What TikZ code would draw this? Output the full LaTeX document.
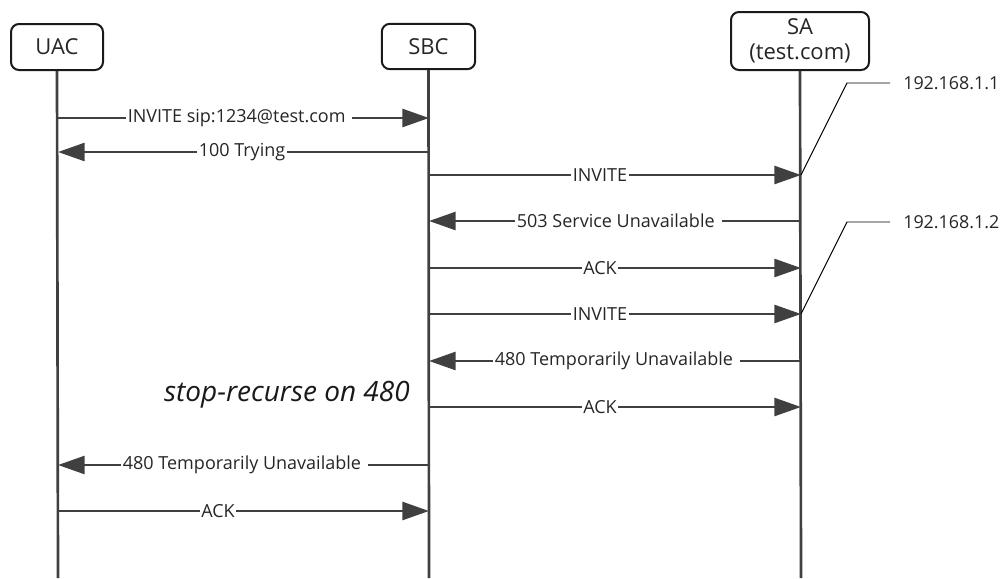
\documentclass[tikz,border=0pt]{standalone}
\usepackage{fontspec}
\setmainfont{Open Sans}
\usetikzlibrary{arrows.meta}
\definecolor{linegray}{HTML}{404040}
\definecolor{boxline}{HTML}{1A1A1A}
\tikzset{
  actor/.style={draw=boxline, line width=1.5pt, rounded corners=6pt, fill=white,
    inner sep=0pt, align=center, font=\fontsize{16.5}{19}\selectfont, text=black!85},
  life/.style={draw=linegray, line width=2pt},
  msg/.style={draw=linegray, line width=2pt, -{Triangle[length=20pt,width=13.5pt]}},
  lbl/.style={fill=white, inner sep=1.2pt, font=\fontsize{13.5}{15}\selectfont, text=black!85},
  ann/.style={draw=black, line width=0.7pt},
  iplbl/.style={inner sep=0pt, anchor=west, font=\fontsize{13.4}{15}\selectfont, text=black!85},
  note/.style={inner sep=0pt, font=\fontsize{21}{25}\selectfont\itshape, text=black!90}
}
\newcommand{\trail}{\kern4pt}
\begin{document}
\begin{tikzpicture}[x=0.75pt, y=-0.75pt]
\useasboundingbox (0,0) rectangle (1005,578);
% actors
\node[actor, minimum width=69pt, minimum height=34.5pt] (uac) at (57,47) {UAC};
\node[actor, minimum width=70pt, minimum height=34pt] (sbc) at (428.5,46.5) {SBC};
\node[actor, minimum width=103.5pt, minimum height=43.5pt] (sa) at (800,41) {SA\\(test.com)};
% lifeline ends
\coordinate (uacend) at (58,578);
\coordinate (sbcend) at (429,578);
\coordinate (saend) at (801,578);
\draw[life] (uac.south) -- (uacend);
\draw[life] (sbc.south) -- (sbcend);
\draw[life] (sa.south) -- (saend);
% message points
\foreach \n/\y in {1/118,2/152,9/465,10/511}{
  \coordinate (u\n) at (58,\y);
  \coordinate (s\n) at (429,\y);
}
\foreach \n/\y in {3/175,4/221,5/268,6/314,7/361,8/407}{
  \coordinate (s\n) at (429,\y);
  \coordinate (a\n) at (801,\y);
}
% messages
\draw[msg] (u1) -- (s1);
\node[lbl, anchor=west] (l1) at (126,118) {INVITE sip:1234@test.com\trail};
\draw[msg] (s2) -- (u2);
\node[lbl] (l2) at (242,152) {100 Trying};
\draw[msg] (s3) -- (a3);
\node[lbl] (l3) at (600,175) {INVITE};
\draw[msg] (a4) -- (s4);
\node[lbl, anchor=west] (l4) at (515,221) {503 Service Unavailable\trail};
\draw[msg] (s5) -- (a5);
\node[lbl] (l5) at (600,268) {ACK};
\draw[msg] (s6) -- (a6);
\node[lbl] (l6) at (600,314) {INVITE};
\draw[msg] (a7) -- (s7);
\node[lbl, anchor=west] (l7) at (493,361) {480 Temporarily Unavailable\trail};
\draw[msg] (s8) -- (a8);
\node[lbl] (l8) at (600,407) {ACK};
\draw[msg] (s9) -- (u9);
\node[lbl, anchor=west] (l9) at (121,465) {480 Temporarily Unavailable\trail};
\draw[msg] (u10) -- (s10);
\node[lbl] (l10) at (218,511) {ACK};
% note
\node[note, anchor=east] (stop) at (410,395) {stop-recurse on 480};
% IP annotations
\node[iplbl] (ip1) at (903,83) {192.168.1.1};
\node[iplbl] (ip2) at (903,222) {192.168.1.2};
\coordinate (k1) at (847,83);
\coordinate (h1) at (890,83);
\coordinate (k2) at (847,222);
\coordinate (h2) at (890,222);
\draw[ann] (a3) -- (k1) -- (h1);
\draw[ann] (a6) -- (k2) -- (h2);
\end{tikzpicture}
\end{document}
